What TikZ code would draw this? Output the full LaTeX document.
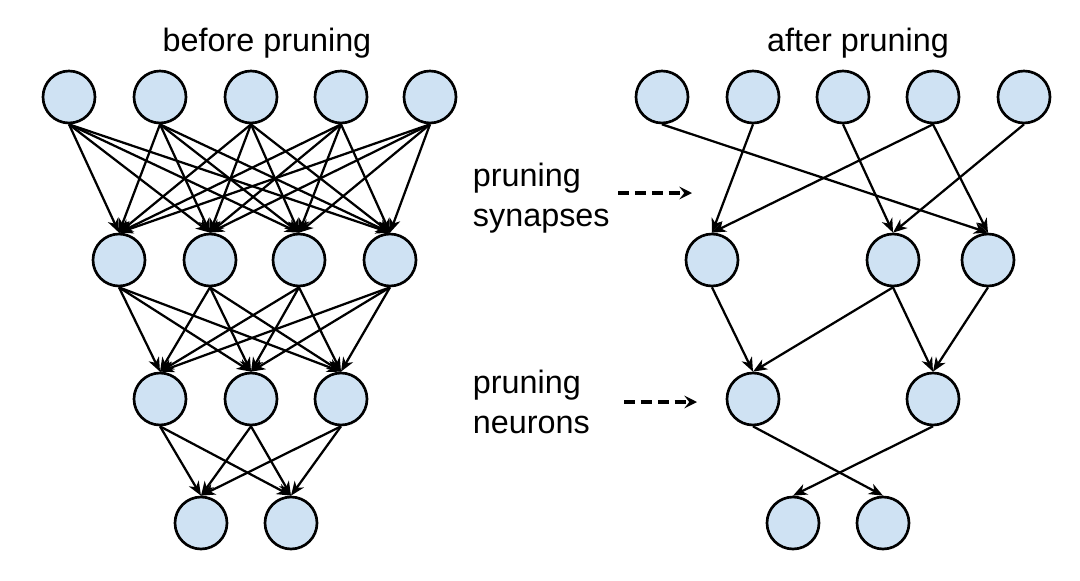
\documentclass[tikz,border=0pt]{standalone}
\usepackage{fontspec}
\setmainfont{Liberation Sans}
\usetikzlibrary{arrows.meta}
\definecolor{neuronblue}{RGB}{207,226,243}
\tikzset{
    neuron/.style={circle, draw=black, line width=1.9pt, fill=neuronblue, minimum size=1.3cm, inner sep=0pt},
    synapse/.style={-{Stealth[length=10pt,width=8pt,inset=3pt]}, line width=1.6pt},
    hint/.style={-{Stealth[length=9pt,width=9pt,inset=3.5pt]}, line width=2.2pt, dash pattern=on 8pt off 4pt},
    caption/.style={font=\fontsize{23}{28}\selectfont}
}
\begin{document}
\begin{tikzpicture}[x=0.025cm, y=-0.025cm]
    \useasboundingbox (0,0) rectangle (1080,580);
    % Titles
    \node[caption] (tbefore) at (267,43) {before pruning};
    \node[caption] (tafter) at (858,43) {after pruning};
    % Left network (before pruning)
    \foreach \x [count=\i] in {69,160,251,341,430} {
        \node[neuron] (a\i) at (\x,97) {};
    }
    \foreach \x [count=\i] in {119,210,299,390} {
        \node[neuron] (b\i) at (\x,260) {};
    }
    \foreach \x [count=\i] in {160,251,341} {
        \node[neuron] (c\i) at (\x,399) {};
    }
    \foreach \x [count=\i] in {201,291} {
        \node[neuron] (d\i) at (\x,523) {};
    }
    \foreach \i in {1,...,5} {
        \foreach \j in {1,...,4} {
            \draw[synapse] (a\i.south) -- (b\j.north);
        }
    }
    \foreach \i in {1,...,4} {
        \foreach \j in {1,...,3} {
            \draw[synapse] (b\i.south) -- (c\j.north);
        }
    }
    \foreach \i in {1,...,3} {
        \foreach \j in {1,2} {
            \draw[synapse] (c\i.south) -- (d\j.north);
        }
    }
    % Right network (after pruning)
    \foreach \x [count=\i] in {662,753,843,933,1024} {
        \node[neuron] (p\i) at (\x,97) {};
    }
    \foreach \x [count=\i] in {712,893,988} {
        \node[neuron] (q\i) at (\x,260) {};
    }
    \foreach \x [count=\i] in {753,933} {
        \node[neuron] (r\i) at (\x,399) {};
    }
    \foreach \x [count=\i] in {793,883} {
        \node[neuron] (s\i) at (\x,523) {};
    }
    \foreach \i/\j in {1/3,2/1,3/2,4/1,4/3,5/2} {
        \draw[synapse] (p\i.south) -- (q\j.north);
    }
    \foreach \i/\j in {1/1,2/1,2/2,3/2} {
        \draw[synapse] (q\i.south) -- (r\j.north);
    }
    \foreach \i/\j in {1/2,2/1} {
        \draw[synapse] (r\i.south) -- (s\j.north);
    }
    % Pruning hints
    \node[caption, align=left, anchor=west] (lsyn) at (468,198) {pruning\\synapses};
    \node[caption, align=left, anchor=west] (lneu) at (468,402) {pruning\\neurons};
    \coordinate (hs1) at (618,193);
    \coordinate (hs2) at (692,193);
    \coordinate (hn1) at (624,402);
    \coordinate (hn2) at (697,402);
    \draw[hint] (hs1) -- (hs2);
    \draw[hint] (hn1) -- (hn2);
\end{tikzpicture}
\end{document}
